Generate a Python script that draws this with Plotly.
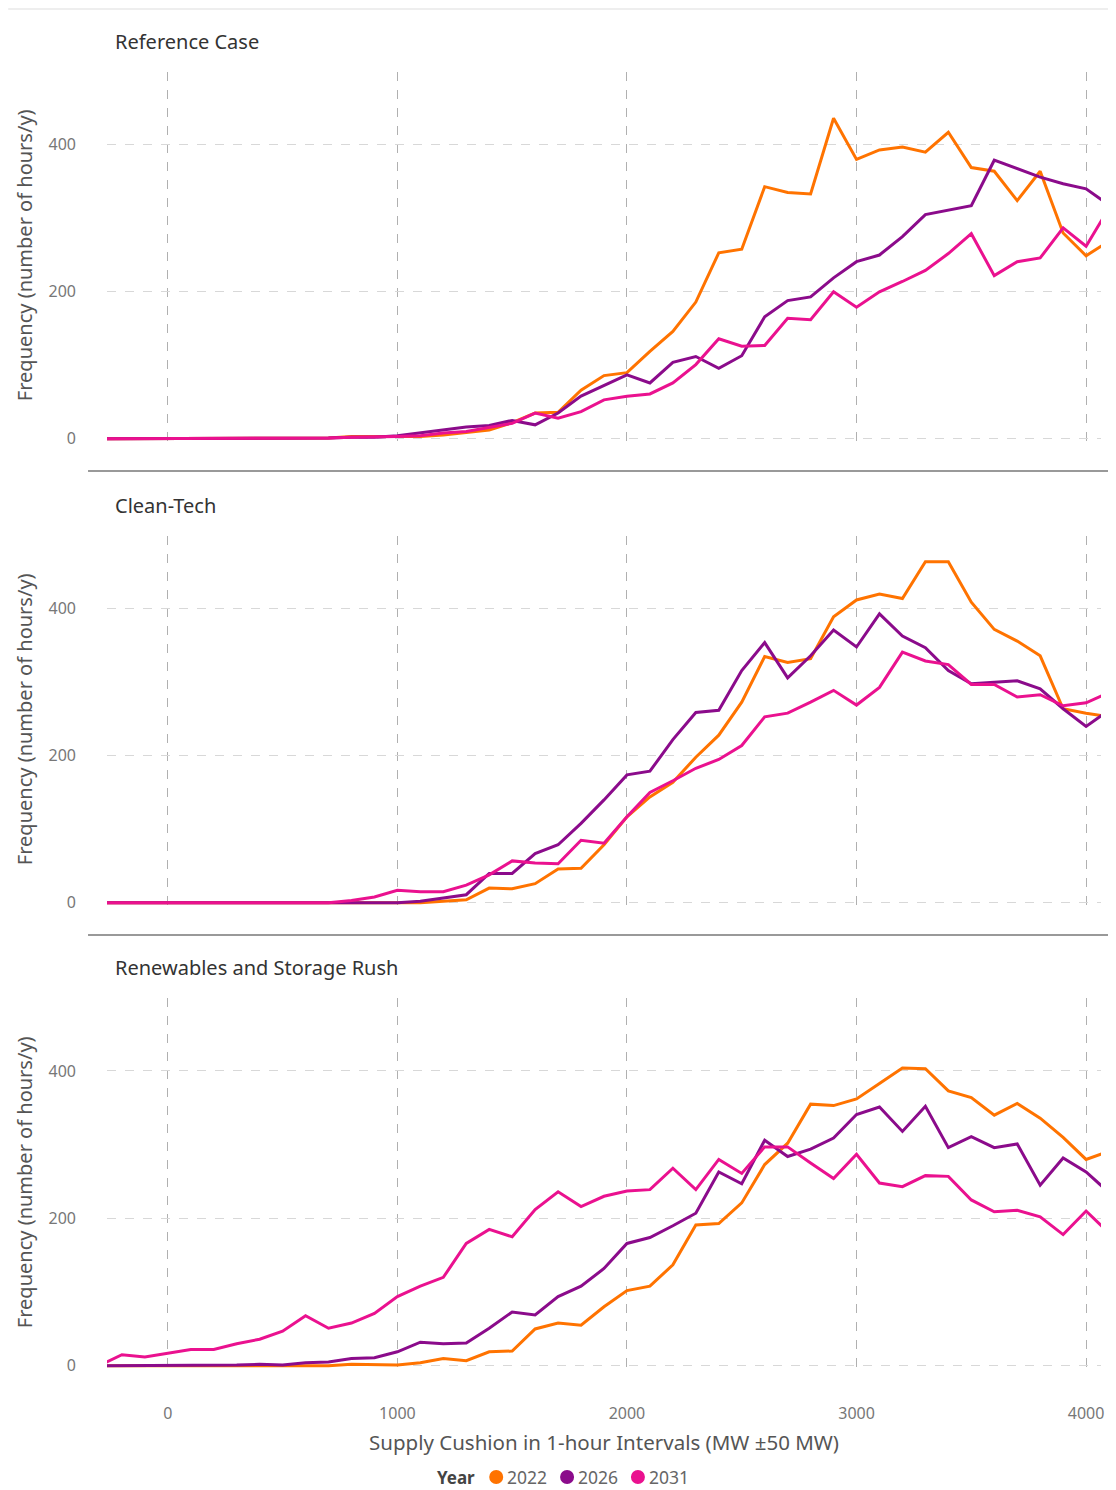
import plotly.graph_objects as go

# ---------------- data ----------------
supply_cushion = list(range(-300, 4101, 100))  # MW bins (±50 MW)

years = ["2022", "2026", "2031"]
colors = {"2022": "#FF7300", "2026": "#8B0B8B", "2031": "#EA118F"}

scenarios = ["Reference Case", "Clean-Tech", "Renewables and Storage Rush"]

ref_2022 = [0,0,0,0,0,0,0,0,0,1,1, 3,3,2,3,5,8,12,22,35,36,66,86,90,119,146,186,253,258,343,335,333,436,380,393,397,390,417,369,364,324,364,280,249,269]
ref_2026 = [0,0,0,0,0,0,0,0,0,1,1, 2,2,4,8,13,16,18,25,19,35,58,73,87,76,104,112,96,113,166,188,193,219,241,250,275,305,311,317,379,368,356,347,340,318]
ref_2031 = [0,0,0,0,0,0,0,0,0,1,1, 2,2,3,4,8,10,15,21,35,28,37,53,58,61,76,101,136,126,127,164,162,200,179,200,214,229,252,279,222,241,246,287,262,314]

ct_2022 = [0,0,0,0,0,0,0,0,0,0,0,0,0,0,0, 2,4,20,19,26,46,47,79,117,144,164,198,228,273,335,327,332,389,412,420,414,464,464,409,372,356,336,264,258,253]
ct_2026 = [0,0,0,0,0,0,0,0,0,0,0,0,0,0, 2,6,11,40,40,67,79,108,140,174,179,222,259,262,316,354,306,336,371,348,393,363,347,316,298,300,302,291,264,240,262]
ct_2031 = [0,0,0,0,0,0,0,0,0,0,0, 3,8,17,15,15,24,38,57,54,53,85,81,117,150,166,183,195,214,253,258,273,289,269,293,341,329,324,297,297,280,283,268,272,286]

rs_2022 = [0,0,0,0,0,0,0,0,0,0,0, 2,2,1,4,10,7,19,20,50,58,55,80,102,108,137,191,193,221,273,302,355,353,362,383,404,403,373,364,340,356,336,310,280,291]
rs_2026 = [0,0,0,0,0,0,1,2,1, 4,5,10,11,19,32,30,31,51,73,69,94,108,132,166,174,190,207,263,247,306,284,294,309,341,351,318,352,296,311,296,301,245,282,263,235]
rs_2031 = [0,15,12,17,22,22,30,36,47,68,51,58,71,94,108,120,166,185,175,212,236,216,230,237,239,268,239,280,261,297,297,275,254,287,248,243,258,257,225,209,211,202,178,210,180]

series = {
    "Reference Case": {"2022": ref_2022, "2026": ref_2026, "2031": ref_2031},
    "Clean-Tech": {"2022": ct_2022, "2026": ct_2026, "2031": ct_2031},
    "Renewables and Storage Rush": {"2022": rs_2022, "2026": rs_2026, "2031": rs_2031},
}

x_ticks = [0, 1000, 2000, 3000, 4000]
y_ticks = [0, 200, 400]

# ---------------- layout geometry ----------------
OFF = 8  # page body margin
W, H = 1108, 1482
ML, MR, MT, MB = 99, 13, 64, 122
PW = W - ML - MR
PH = H - MT - MB


def px(X):
    return (X - OFF - ML) / PW


def py(Y):
    return (H - MB - (Y - OFF)) / PH


panel_px = [(72, 441), (536, 905), (998, 1368)]  # top, bottom in screen pixels
domains = [[py(b), py(t)] for t, b in panel_px]

FONT = "Noto Sans"
fig = go.Figure()

for i, sc in enumerate(scenarios):
    n = "" if i == 0 else str(i + 1)
    for yr in years:
        fig.add_trace(go.Scatter(
            x=supply_cushion, y=series[sc][yr], mode="lines",
            name=yr, line=dict(color=colors[yr], width=3),
            xaxis="x" + n, yaxis="y" + n, showlegend=False,
            cliponaxis=True,
        ))

axis_common_x = dict(
    range=[-265, 4065], tickvals=x_ticks, showgrid=True, gridcolor="#b0b0b0",
    griddash="dash", gridwidth=1, zeroline=False, showline=False, ticks="",
    tickfont=dict(family=FONT, size=16, color="#777777"),
)
axis_common_y = dict(
    range=[-3, 499], tickvals=y_ticks, showgrid=True, gridcolor="#d8d8d8",
    griddash="dash", gridwidth=1, zeroline=False, showline=False, ticks="",
    tickfont=dict(family=FONT, size=16, color="#777777"), ticklabelstandoff=30,
)

layout_axes = {}
for i in range(3):
    n = "" if i == 0 else str(i + 1)
    xa = dict(axis_common_x)
    xa["domain"] = [0, 1]
    xa["anchor"] = "y" + n
    if i < 2:
        xa["showticklabels"] = False
    else:
        xa["ticklabelstandoff"] = 34
    ya = dict(axis_common_y)
    ya["domain"] = domains[i]
    ya["anchor"] = "x" + n
    layout_axes["xaxis" + n] = xa
    layout_axes["yaxis" + n] = ya

annotations = []
title_y = [41, 505, 967]
ytitle_y = [255, 719, 1182]
for i, sc in enumerate(scenarios):
    annotations.append(dict(
        text=sc, xref="paper", yref="paper", x=px(113), y=py(title_y[i]),
        xanchor="left", yanchor="middle", showarrow=False,
        font=dict(family=FONT, size=20, color="#333333"),
    ))
    annotations.append(dict(
        text="Frequency (number of hours/y)", xref="paper", yref="paper",
        x=px(24), y=py(ytitle_y[i]), xanchor="center", yanchor="middle",
        textangle=-90, showarrow=False,
        font=dict(family=FONT, size=20, color="#555555"),
    ))

annotations.append(dict(
    text="Supply Cushion in 1-hour Intervals (MW ±50 MW)", xref="paper", yref="paper",
    x=px(605), y=py(1442), xanchor="center", yanchor="middle", showarrow=False,
    font=dict(family=FONT, size=20.5, color="#555555"),
))

# legend built from text + circle shapes
LEG_Y = 1477
annotations.append(dict(
    text="<b>Year</b>", xref="paper", yref="paper", x=px(457), y=py(LEG_Y),
    xanchor="center", yanchor="middle", showarrow=False,
    font=dict(family=FONT, size=17, color="#444444"),
))
shapes = []
leg_circle_x = [497, 568, 639]
for yr, cx in zip(years, leg_circle_x):
    shapes.append(dict(
        type="circle", xref="paper", yref="paper", xsizemode="pixel", ysizemode="pixel",
        xanchor=px(cx), yanchor=py(LEG_Y), x0=-7, x1=7, y0=-7, y1=7,
        fillcolor=colors[yr], line=dict(width=0),
    ))
    annotations.append(dict(
        text=yr, xref="paper", yref="paper", x=px(cx + 9), y=py(LEG_Y),
        xanchor="left", yanchor="middle", showarrow=False,
        font=dict(family=FONT, size=17.5, color="#666666"),
    ))

for Y in (471, 935):
    shapes.append(dict(type="line", xref="paper", yref="paper",
                       x0=px(88), x1=px(1116), y0=py(Y), y1=py(Y),
                       line=dict(color="#999999", width=2)))
shapes.append(dict(type="line", xref="paper", yref="paper",
                   x0=px(8), x1=px(1116), y0=py(9), y1=py(9),
                   line=dict(color="#eeeeee", width=2)))

fig.update_layout(
    width=W, height=H,
    margin=dict(l=ML, r=MR, t=MT, b=MB),
    plot_bgcolor="white", paper_bgcolor="white",
    showlegend=False,
    annotations=annotations, shapes=shapes,
    **layout_axes,
)

fig.write_html("out.html")
